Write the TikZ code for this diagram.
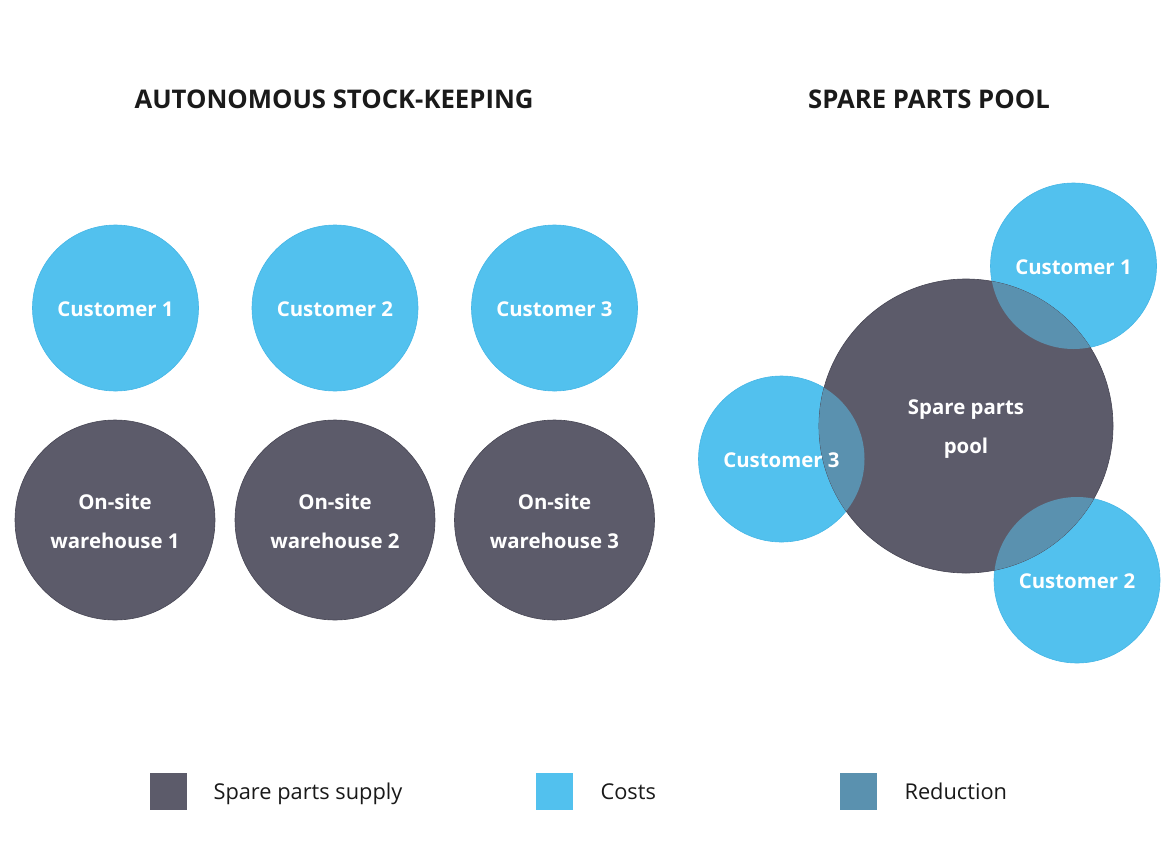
\documentclass[tikz,border=0pt]{standalone}
\usepackage{fontspec}
\setmainfont{Open Sans}
\definecolor{dark}{HTML}{5C5B6A}
\definecolor{darkline}{HTML}{474654}
\definecolor{cblue}{HTML}{52C1EE}
\definecolor{cblueline}{HTML}{45B6E6}
\definecolor{reduct}{HTML}{5A91AF}
\definecolor{titlec}{HTML}{1A1A1A}
\begin{document}
\begin{tikzpicture}[x=1pt,y=-1pt,
  cust/.style={circle,fill=cblue,draw=cblueline,line width=0.6pt,minimum size=166pt,inner sep=0pt},
  ware/.style={circle,fill=dark,draw=darkline,line width=0.6pt,minimum size=200pt,inner sep=0pt},
  lbl/.style={font=\bfseries\fontsize{20.4}{39}\selectfont,text=white,align=center},
  ttl/.style={font=\bfseries\fontsize{25.7}{30}\selectfont,text=titlec},
  legsq/.style={minimum size=37pt,inner sep=0pt},
  legtx/.style={font=\fontsize{21.8}{26}\selectfont,text=black!90,anchor=base west}]
\useasboundingbox (0,0) rectangle (1170,865);
% titles
\node[ttl] (t1) at (334,99) {AUTONOMOUS STOCK-KEEPING};
\node[ttl] (t2) at (929,99) {SPARE PARTS POOL};
% left side
\node[cust] (c1) at (115.5,308) {};
\node[cust] (c2) at (335,308) {};
\node[cust] (c3) at (554.5,308) {};
\node[ware] (w1) at (115,520) {};
\node[ware] (w2) at (335,520) {};
\node[ware] (w3) at (554.5,520) {};
\node[lbl] at ([yshift=-1pt]c1) {Customer 1};
\node[lbl] at ([yshift=-1pt]c2) {Customer 2};
\node[lbl] at ([yshift=-1pt]c3) {Customer 3};
\node[lbl] at ([yshift=-1pt]w1) {On-site\\warehouse 1};
\node[lbl] at ([yshift=-1pt]w2) {On-site\\warehouse 2};
\node[lbl] at ([yshift=-1pt]w3) {On-site\\warehouse 3};
% right side
\node[cust] (r1) at (1073.5,266) {};
\node[cust] (r3) at (781.5,459) {};
\node[cust] (r2) at (1077,580) {};
\node[ware,minimum size=294pt] (pool) at (966,426) {};
\begin{scope}
  \clip (966,426) circle (147pt);
  \fill[reduct] (1073.5,266) circle (83pt);
  \fill[reduct] (781.5,459) circle (83pt);
  \fill[reduct] (1077,580) circle (83pt);
\end{scope}
\node[lbl] at ([yshift=-3pt]pool) {Spare parts\\pool};
\node[lbl] at ([yshift=-1pt]r1) {Customer 1};
\node[lbl] at ([yshift=-1pt]r3) {Customer 3};
\node[lbl] at ([yshift=-1pt]r2) {Customer 2};
% legend
\node[legsq,fill=dark] (l1) at (168.5,791.5) {};
\node[legsq,fill=cblue] (l2) at (554.5,791.5) {};
\node[legsq,fill=reduct] (l3) at (858.5,791.5) {};
\node[legtx] at (210,799) {Spare parts supply};
\node[legtx] at (597,799) {Costs};
\node[legtx] at (901,799) {Reduction};
\end{tikzpicture}
\end{document}
